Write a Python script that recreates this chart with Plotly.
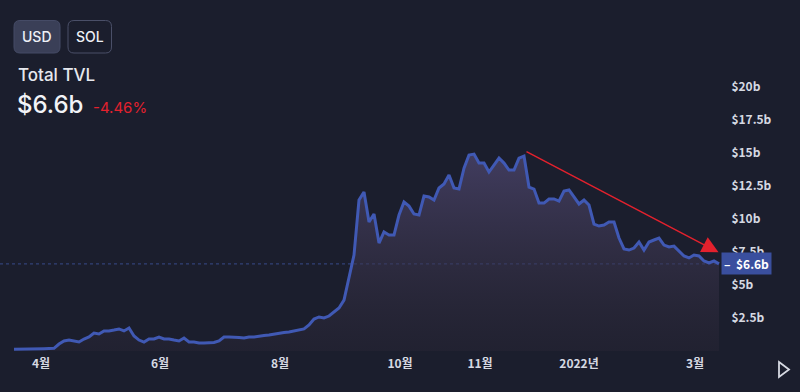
import plotly.graph_objects as go

# ---- data ----
tvl_values = [
    0.13, 0.13, 0.14, 0.15, 0.15, 0.17, 0.18, 0.19, 0.20, 0.53,
    0.76, 0.83, 0.76, 0.68, 0.91, 1.06, 1.36, 1.29, 1.52, 1.52,
    1.59, 1.67, 1.52, 1.74, 1.14, 0.83, 0.68, 0.91, 0.91, 1.06,
    0.91, 0.91, 0.83, 0.76, 0.98, 0.68, 0.68, 0.61, 0.61, 0.61,
    0.64, 0.76, 1.06, 1.06, 1.06, 1.02, 0.98, 1.06, 1.06, 1.14,
    1.17, 1.21, 1.29, 1.36, 1.40, 1.44, 1.52, 1.55, 1.67, 1.97,
    2.42, 2.58, 2.50, 2.65, 2.95, 3.26, 3.86, 5.68, 7.27, 11.44,
    12.05, 9.77, 10.38, 8.18, 9.02, 8.79, 8.79, 10.30, 11.29, 10.98,
    10.38, 10.30, 11.74, 11.67, 11.44, 12.35, 12.65, 13.33, 12.35, 12.27,
    13.86, 14.85, 14.92, 14.24, 14.24, 13.56, 14.09, 14.62, 14.24, 13.71,
    13.71, 14.62, 14.77, 12.42, 12.27, 11.21, 11.21, 11.52, 11.52, 11.36,
    12.12, 12.20, 11.67, 11.14, 11.44, 11.06, 9.62, 9.47, 9.55, 9.77,
    9.77, 8.56, 7.73, 7.65, 7.80, 8.26, 7.65, 8.26, 8.41, 8.56,
    8.03, 7.88, 7.95, 7.58, 7.20, 7.05, 7.27, 7.20, 6.82, 6.67,
    6.82, 6.60,
]
bar_index = list(range(len(tvl_values)))

x_tick_pos = [5.4, 29.2, 53.2, 77.2, 93.2, 113.0, 136.2]
x_tick_labels = ["4월", "6월", "8월", "10월", "11월", "2022년", "3월"]

y_tick_vals = [2.5, 5, 7.5, 10, 12.5, 15, 17.5, 20]
y_tick_labels = ["$2.5b", "$5b", "$7.5b", "$10b", "$12.5b", "$15b", "$17.5b", "$20b"]

current_value = 6.6
current_label = "$6.6b"
change_label = "-4.46%"

arrow_start = (102.2, 15.17)
arrow_end = (140.9, 7.48)

# ---- style ----
BG = "#1b1e2d"
LINE = "#4059b4"
TEXT = "#d6d9e2"
RED = "#e3212d"

W, H = 800, 392
ML, MR, MT, MB = 0, 80, 60, 37
PW, PH = W - ML - MR, H - MT - MB


def px(x):
    return (x - ML) / PW


def py(y):
    return (H - MB - y) / PH


def rounded_rect(x0, y0, x1, y1, r):
    rx, ry = r / PW, r / PH
    X0, X1 = px(x0), px(x1)
    Y0, Y1 = py(y0), py(y1)  # Y0 top (larger), Y1 bottom
    return (
        f"M {X0+rx},{Y0} L {X1-rx},{Y0} Q {X1},{Y0} {X1},{Y0-ry} "
        f"L {X1},{Y1+ry} Q {X1},{Y1} {X1-rx},{Y1} "
        f"L {X0+rx},{Y1} Q {X0},{Y1} {X0},{Y1+ry} "
        f"L {X0},{Y0-ry} Q {X0},{Y0} {X0+rx},{Y0} Z"
    )


fig = go.Figure()
fig.add_trace(
    go.Scatter(
        x=bar_index,
        y=tvl_values,
        mode="lines",
        line=dict(color=LINE, width=3),
        fill="tozeroy",
        fillgradient=dict(
            type="vertical",
            colorscale=[[0, "rgba(48,42,58,0.30)"], [0.5, "rgba(60,54,80,0.6)"], [1, "rgba(72,66,104,0.85)"]],
        ),
        hoverinfo="skip",
        showlegend=False,
    )
)

shapes = [
    # current price dotted line
    dict(type="line", xref="paper", yref="y", x0=0, x1=1, y0=current_value, y1=current_value,
         line=dict(color="rgba(66,88,170,0.75)", width=1, dash="dot"), layer="below"),
    # buttons
    dict(type="path", xref="paper", yref="paper", path=rounded_rect(14, 20.5, 60, 53, 6),
         fillcolor="#3a3f57", line=dict(color="#454b66", width=1)),
    dict(type="path", xref="paper", yref="paper", path=rounded_rect(68, 20.5, 111.5, 53, 6),
         fillcolor="rgba(0,0,0,0)", line=dict(color="#4a4f68", width=1)),
    # play triangle
    dict(type="path", xref="paper", yref="paper",
         path=f"M {px(779)},{py(362)} L {px(789)},{py(369.5)} L {px(779)},{py(377)} Z",
         fillcolor="rgba(0,0,0,0)", line=dict(color=TEXT, width=1.8)),
]

annotations = [
    dict(xref="paper", yref="paper", x=px(37), y=py(37), text="USD", showarrow=False,
         font=dict(family="Inter", size=14, color="#eef0f6", weight=500), xanchor="center", yanchor="middle"),
    dict(xref="paper", yref="paper", x=px(90), y=py(37), text="SOL", showarrow=False,
         font=dict(family="Inter", size=14, color="#eef0f6", weight=500), xanchor="center", yanchor="middle"),
    dict(xref="paper", yref="paper", x=px(16), y=py(75.5), text="Total TVL", showarrow=False,
         font=dict(family="Inter", size=17, color="#e6e8ee", weight=500), xanchor="left", yanchor="middle"),
    dict(xref="paper", yref="paper", x=px(15), y=py(104), text=current_label, showarrow=False,
         font=dict(family="Inter", size=24, color="#f2f3f7", weight=500), xanchor="left", yanchor="middle"),
    dict(xref="paper", yref="paper", x=px(91), y=py(107), text=change_label, showarrow=False,
         font=dict(family="Inter", size=15, color=RED), xanchor="left", yanchor="middle"),
    # current value label on price axis
    dict(xref="paper", yref="y", x=px(721), y=current_value, text="–  " + current_label,
         showarrow=False, xanchor="left", yanchor="middle", bgcolor="#3a4f9e",
         borderpad=2, font=dict(family="Noto Sans CJK KR", size=12, color="#ffffff", weight="bold")),
    # red trend arrow
    dict(x=arrow_end[0], y=arrow_end[1], ax=arrow_start[0], ay=arrow_start[1],
         xref="x", yref="y", axref="x", ayref="y", text="", showarrow=True,
         arrowhead=2, arrowsize=2.2, arrowwidth=1.5, arrowcolor=RED),
]

fig.update_layout(
    width=W,
    height=H,
    autosize=False,
    margin=dict(l=ML, r=MR, t=MT, b=MB, pad=0),
    paper_bgcolor=BG,
    plot_bgcolor=BG,
    shapes=shapes,
    annotations=annotations,
    xaxis=dict(
        range=[-2.8, 141.2],
        tickvals=x_tick_pos,
        ticktext=x_tick_labels,
        showgrid=False,
        zeroline=False,
        showline=False,
        ticks="",
        tickfont=dict(family="Noto Sans CJK KR", size=12, color=TEXT, weight="bold"),
        fixedrange=True,
    ),
    yaxis=dict(
        side="right",
        range=[-0.303, 22.05],
        tickvals=y_tick_vals,
        ticktext=y_tick_labels,
        showgrid=False,
        zeroline=False,
        showline=False,
        ticks="outside",
        ticklen=8,
        tickcolor=BG,
        tickfont=dict(family="Noto Sans CJK KR", size=12, color=TEXT, weight="bold"),
        fixedrange=True,
    ),
)

fig.write_html(
    "out.html",
    config={"displayModeBar": False},
    post_script="document.body.style.margin='0';document.body.style.background='%s';" % BG,
)
